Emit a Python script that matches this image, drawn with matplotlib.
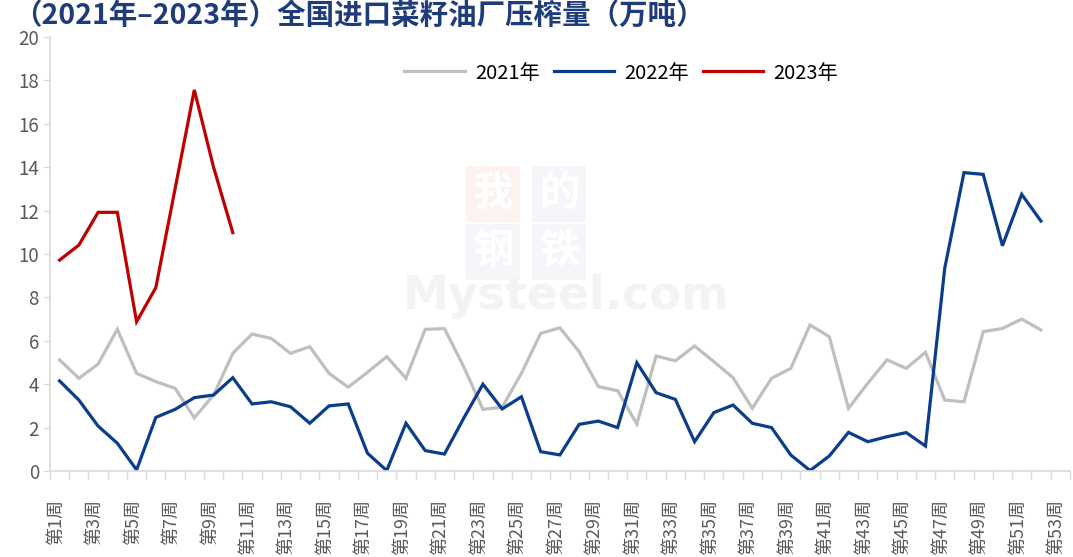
import matplotlib
matplotlib.use("Agg")
import matplotlib.pyplot as plt
import matplotlib.transforms as mtransforms
import numpy as np

plt.rcParams['font.family'] = ['Noto Sans CJK SC', 'DejaVu Sans']

weeks = [f"第{i}周" for i in range(1, 54)]
v2021 = [5.12, 4.27, 4.93, 6.53, 4.5, 4.12, 3.81, 2.45, 3.5, 5.42,
         6.31, 6.11, 5.42, 5.73, 4.5, 3.86, 4.55, 5.27, 4.27, 6.53,
         6.56, 4.81, 2.84, 2.94, 4.5, 6.34, 6.6, 5.5, 3.89, 3.7,
         2.17, 5.3, 5.08, 5.76, 5.04, 4.3, 2.89, 4.27, 4.73, 6.73,
         6.19, 2.89, 4.04, 5.12, 4.73, 5.47, 3.27, 3.19, 6.42, 6.57,
         7.0, 6.5]
v2022 = [4.15, 3.27, 2.07, 1.28, 0.05, 2.47, 2.84, 3.38, 3.5, 4.3,
         3.09, 3.19, 2.96, 2.2, 3.0, 3.09, 0.82, 0.02, 2.2, 0.94,
         0.78, 2.43, 4.0, 2.86, 3.42, 0.89, 0.74, 2.15, 2.3, 2.0,
         4.99, 3.61, 3.3, 1.35, 2.69, 3.04, 2.2, 2.0, 0.74, 0.02,
         0.69, 1.78, 1.35, 1.58, 1.77, 1.15, 9.34, 13.75, 13.67, 10.38,
         12.75, 11.52]
v2023 = [9.72, 10.41, 11.92, 11.92, 6.88, 8.45, 13.0, 17.56, 14.0, 10.98]
series_names = ["2021年", "2022年", "2023年"]
colors = ["#BFBFBF", "#0A3D8C", "#C00000"]

fig = plt.figure(figsize=(10.73, 5.57), dpi=100)
ax = fig.add_axes([0.0466, 0.1544, 0.9504, 0.7792])

# watermark (decorative)
wm_chars = ["我", "的", "钢", "铁"]
wm_bg = ["#FDF2F0", "#F5F6FA", "#F5F6FA", "#F5F6FA"]
wm_pos = [(0.4595, 0.652), (0.521, 0.652), (0.4595, 0.548), (0.521, 0.548)]
for ch, bg, (px, py) in zip(wm_chars, wm_bg, wm_pos):
    fig.text(px, py, ch, ha='center', va='center', fontsize=29, color='white',
             fontweight='bold', zorder=0,
             bbox=dict(boxstyle='square,pad=0.18', facecolor=bg, edgecolor='none'))
fig.text(0.5275, 0.468, "Mysteel.com", ha='center', va='center', fontsize=33,
         color='#F3F3F3', fontweight='bold', family='DejaVu Sans', zorder=0)
ax.set_facecolor('none')
ax.set_zorder(2)

x = np.arange(len(weeks))
for vals, name, c in zip([v2021, v2022, v2023], series_names, colors):
    ax.plot(x[:len(vals)], vals, color=c, lw=2.3, label=name, solid_joinstyle='miter')

ax.set_xlim(-0.5, len(weeks) - 0.5)
ax.set_ylim(0, 20)
ax.set_yticks(np.arange(0, 21, 2))
ax.set_xticks(x[::2])
ax.set_xticklabels(weeks[::2], rotation=90, va='top', ha='center')
ax.set_xticks(np.arange(-0.5, len(weeks), 1), minor=True)
ax.tick_params(axis='x', which='major', length=0, pad=20, labelsize=13, labelcolor='#595959')
ax.tick_params(axis='x', which='minor', length=6, color='#D9D9D9', width=1)
ax.tick_params(axis='y', length=5, color='#D9D9D9', labelsize=13.5, labelcolor='#595959', pad=3)
offset = mtransforms.ScaledTranslation(-4 / 100, 0, fig.dpi_scale_trans)
for lbl in ax.get_xticklabels():
    lbl.set_transform(lbl.get_transform() + offset)

for s in ['top', 'right']:
    ax.spines[s].set_visible(False)
for s in ['left', 'bottom']:
    ax.spines[s].set_color('#D9D9D9')
    ax.spines[s].set_linewidth(1.2)

ax.legend(loc='center', bbox_to_anchor=(0.56, 0.917), ncol=3, frameon=False,
          handlelength=3.0, columnspacing=0.7, handletextpad=0.5, fontsize=14.5)

fig.text(0.012, 0.972, "（2021年–2023年）全国进口菜籽油厂压榨量（万吨）",
         fontsize=20.5, color='#1F3C7A', ha='left', va='center', fontweight='bold')

fig.savefig("out.png", dpi=100, facecolor='white')
